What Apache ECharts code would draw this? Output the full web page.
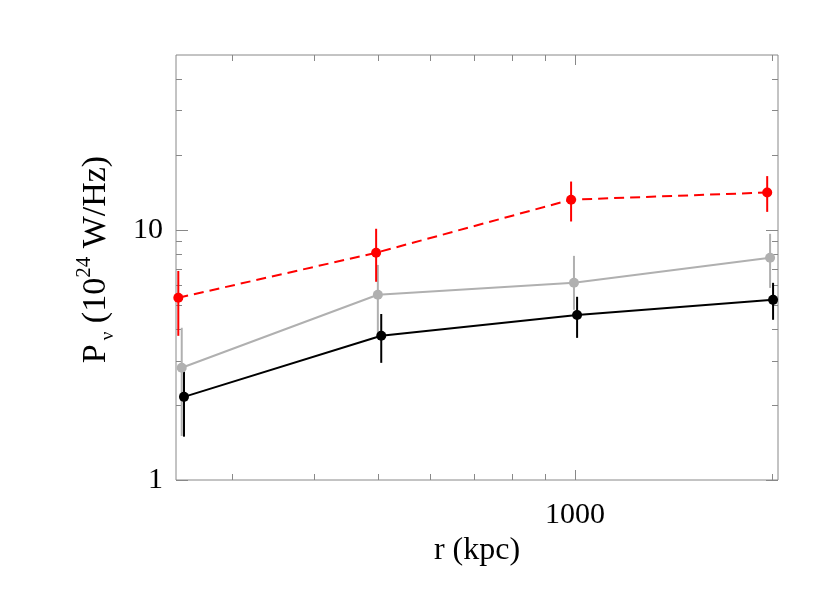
<!DOCTYPE html>
<html>
<head>
<meta charset="utf-8">
<script src="https://cdn.jsdelivr.net/npm/echarts@6/dist/echarts.min.js"></script>
<style>html,body{margin:0;padding:0;background:#fff;}#chart{width:830px;height:593px;}</style>
</head>
<body>
<div id="chart"></div>
<script>
// ---- data ----
const xRed   = [248, 497, 986, 1964];
const yRed   = [5.35, 8.1, 13.2, 14.1];
const redLo  = [3.77, 6.2, 10.8, 11.8];
const redHi  = [6.85, 10.1, 15.6, 16.4];

const xGray  = [251, 500, 996, 1984];
const yGray  = [2.81, 5.5, 6.14, 7.73];
const grayLo = [1.50, 3.9, 4.79, 5.86];
const grayHi = [4.06, 7.24, 7.87, 9.64];

const xBlack  = [253, 506, 1007, 2005];
const yBlack  = [2.15, 3.77, 4.57, 5.25];
const blackLo = [1.49, 2.94, 3.70, 4.37];
const blackHi = [2.81, 4.61, 5.40, 6.14];

const xMajorTicks = [1000];
const xMinorTicks = [300, 400, 500, 600, 700, 800, 900, 2000];
const yMajorTicks = [1, 10];
const yMinorTicks = [2, 3, 4, 5, 6, 7, 8, 9, 20, 30, 40];
const xTickLabels = [1000];
const yTickLabels = [1, 10];

const xMin = 246, xMax = 2040, yMin = 1, yMax = 50;

// ---- chart ----
const FONT = 'Liberation Serif';
const AXIS_COLOR = '#888888';
const chart = echarts.init(document.getElementById('chart'), null, {renderer: 'canvas'});

function isIn(v, arr) {
  return arr.some(t => Math.abs(Math.log10(v) - Math.log10(t)) < 1e-6);
}

function errData(xs, lo, hi) {
  return xs.map((x, i) => [x, lo[i], hi[i]]);
}
function errSeries(xs, lo, hi, color) {
  return {
    type: 'custom', silent: true, z: 2,
    data: errData(xs, lo, hi),
    encode: {x: 0, y: [1, 2]},
    renderItem: function (params, api) {
      const a = api.coord([api.value(0), api.value(1)]);
      const b = api.coord([api.value(0), api.value(2)]);
      return {type: 'line', shape: {x1: a[0], y1: a[1], x2: b[0], y2: b[1]},
              style: {stroke: color, lineWidth: 2}};
    }
  };
}
function lineSeries(xs, ys, color, dashed) {
  return {
    type: 'line', silent: true, z: 3,
    data: xs.map((x, i) => [x, ys[i]]),
    symbol: 'circle', symbolSize: 10,
    itemStyle: {color: color},
    lineStyle: {color: color, width: 2, type: dashed ? [10, 6] : 'solid'}
  };
}

const xTickData = xMajorTicks.map(v => [v, yMin, 1]).concat(xMinorTicks.map(v => [v, yMin, 0]));
const yTickData = yMajorTicks.map(v => [xMin, v, 1]).concat(yMinorTicks.map(v => [xMin, v, 0]));

const xTickSeries = {
  type: 'custom', silent: true, z: 1,
  data: xTickData, encode: {x: 0, y: 1},
  renderItem: function (params, api) {
    const cs = params.coordSys;
    const px = Math.round(api.coord([api.value(0), api.value(1)])[0]) + 0.5;
    const len = api.value(2) ? 10 : 6;
    const st = {stroke: AXIS_COLOR, lineWidth: 1};
    return {type: 'group', children: [
      {type: 'line', shape: {x1: px, y1: cs.y + cs.height, x2: px, y2: cs.y + cs.height - len}, style: st},
      {type: 'line', shape: {x1: px, y1: cs.y, x2: px, y2: cs.y + len}, style: st}
    ]};
  }
};
const yTickSeries = {
  type: 'custom', silent: true, z: 1,
  data: yTickData, encode: {x: 0, y: 1},
  renderItem: function (params, api) {
    const cs = params.coordSys;
    const py = Math.round(api.coord([api.value(0), api.value(1)])[1]) + 0.5;
    const len = api.value(2) ? 12 : 6;
    const st = {stroke: AXIS_COLOR, lineWidth: 1};
    return {type: 'group', children: [
      {type: 'line', shape: {x1: cs.x, y1: py, x2: cs.x + len, y2: py}, style: st},
      {type: 'line', shape: {x1: cs.x + cs.width, y1: py, x2: cs.x + cs.width - len, y2: py}, style: st}
    ]};
  }
};

const option = {
  animation: false,
  backgroundColor: '#ffffff',
  grid: {left: 176, right: 52, top: 55, bottom: 113, show: true,
         borderColor: AXIS_COLOR, borderWidth: 1, backgroundColor: 'transparent'},
  xAxis: {
    type: 'log', logBase: 10, min: xMin, max: xMax,
    axisLine: {show: false}, axisTick: {show: false}, splitLine: {show: false},
    minorTick: {show: false}, minorSplitLine: {show: false},
    axisLabel: {
      fontFamily: FONT, fontSize: 30, color: '#000', margin: 20,
      showMinLabel: true, showMaxLabel: true,
      formatter: v => isIn(v, xTickLabels) ? String(Math.round(v)) : ''
    },
    name: 'r (kpc)', nameLocation: 'middle', nameGap: 46,
    nameTextStyle: {fontFamily: FONT, fontSize: 32, color: '#000'}
  },
  yAxis: {
    type: 'log', logBase: 10, min: yMin, max: yMax,
    axisLine: {show: false}, axisTick: {show: false}, splitLine: {show: false},
    minorTick: {show: false}, minorSplitLine: {show: false},
    axisLabel: {
      fontFamily: FONT, fontSize: 30, color: '#000', margin: 13,
      formatter: v => isIn(v, yTickLabels) ? String(Math.round(v)) : ''
    },
    name: '{a|P}{b|ν}{a| (10}{c|24}{a| W/Hz)}',
    nameLocation: 'middle', nameGap: 58,
    nameTextStyle: {
      fontFamily: FONT, fontSize: 34, color: '#000', padding: [0, 0, 0, 16],
      rich: {
        a: {fontFamily: FONT, fontSize: 34, color: '#000', lineHeight: 44, verticalAlign: 'middle'},
        b: {fontFamily: FONT, fontSize: 19, color: '#000', lineHeight: 44, verticalAlign: 'bottom', padding: [0, 0, 0, 4]},
        c: {fontFamily: FONT, fontSize: 21, color: '#000', lineHeight: 44, verticalAlign: 'top'}
      }
    }
  },
  series: [
    xTickSeries, yTickSeries,
    errSeries(xGray, grayLo, grayHi, '#b0b0b0'), lineSeries(xGray, yGray, '#b0b0b0', false),
    errSeries(xBlack, blackLo, blackHi, '#000000'), lineSeries(xBlack, yBlack, '#000000', false),
    errSeries(xRed, redLo, redHi, '#ff0000'), lineSeries(xRed, yRed, '#ff0000', true)
  ]
};
chart.setOption(option);
</script>
</body>
</html>
